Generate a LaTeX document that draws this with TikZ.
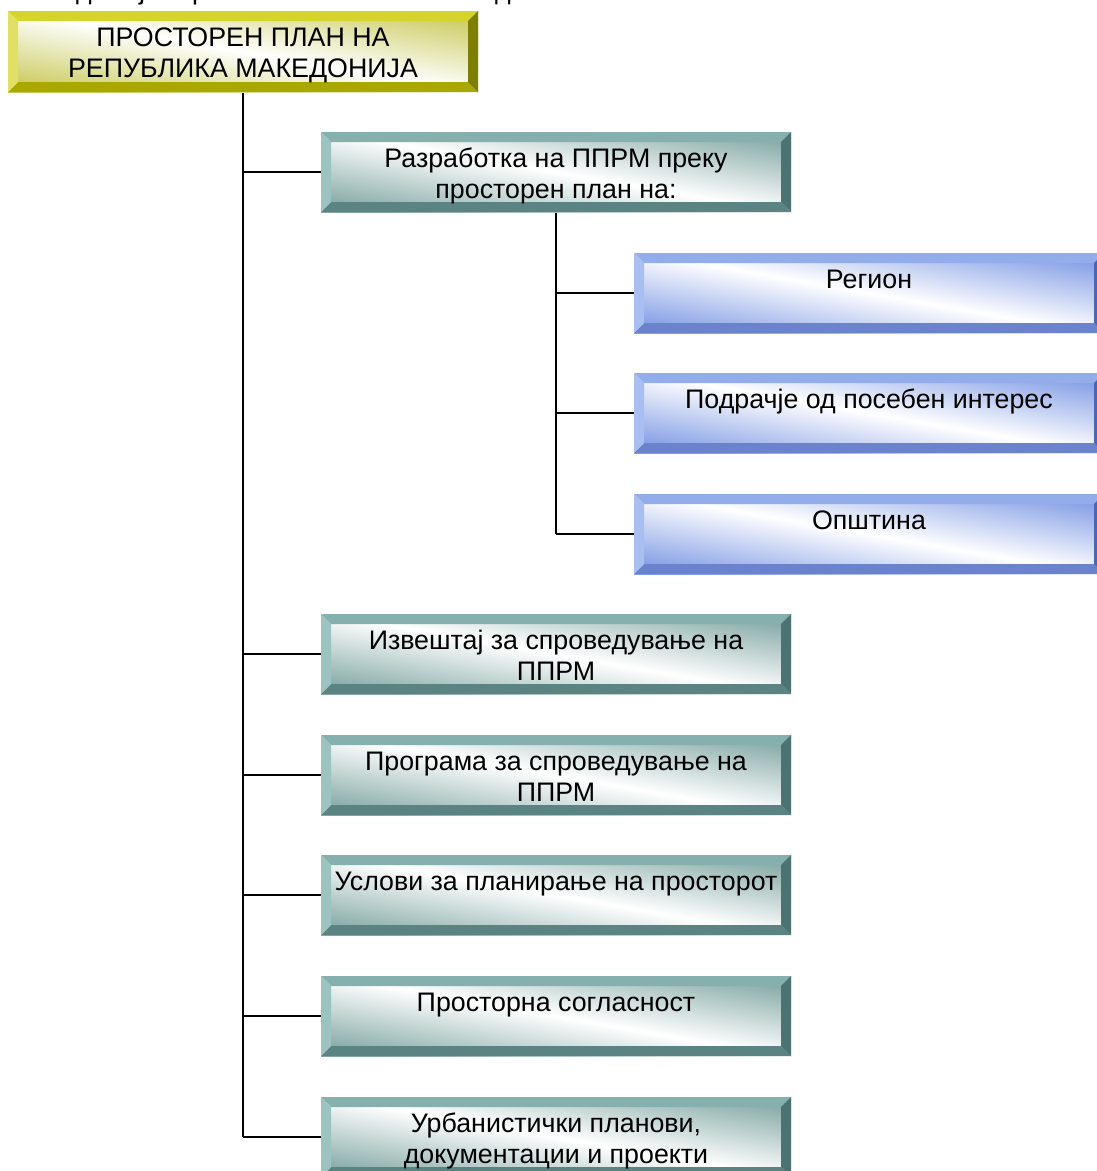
\documentclass[tikz,border=0pt]{standalone}
\usepackage{fontspec}
\setmainfont{Liberation Sans}
\definecolor{yTop}{HTML}{D4D42C}
\definecolor{yLeft}{HTML}{E0E066}
\definecolor{yRight}{HTML}{7E7E00}
\definecolor{yBot}{HTML}{A8A800}
\definecolor{yFace}{HTML}{CDCD66}
\definecolor{tTop}{HTML}{86B0AD}
\definecolor{tLeft}{HTML}{9DC3C0}
\definecolor{tRight}{HTML}{4C7371}
\definecolor{tBot}{HTML}{5A8381}
\definecolor{tFace}{HTML}{88ACA9}
\definecolor{bTop}{HTML}{93ACEA}
\definecolor{bLeft}{HTML}{A9BEF1}
\definecolor{bRight}{HTML}{4D66B4}
\definecolor{bBot}{HTML}{6A83CC}
\definecolor{bFace}{HTML}{86A0E6}
\tikzset{
  boxbase/.style={rectangle, anchor=north west, minimum width=470pt, minimum height=80pt, inner sep=0pt, outer sep=0pt},
  boxtext/.style={anchor=north, inner sep=0pt, align=center, font=\fontsize{26.8}{31}\selectfont},
  conn/.style={line width=1.6pt, black},
  frag/.style={anchor=base west, inner sep=0pt, font=\fontsize{26.8}{31}\selectfont}
}
\newcommand\bevbox[6]{%
  \node[boxbase, minimum height=#6, top color=#4Face, bottom color=#4Face, middle color=white, shading angle=-10] (#1) at (#2,#3) {};
  \fill[#4Top] (#1.north west) -- (#1.north east) -- ([shift={(-10,10)}]#1.north east) -- ([shift={(10,10)}]#1.north west) -- cycle;
  \fill[#4Bot] (#1.south west) -- (#1.south east) -- ([shift={(-10,-10)}]#1.south east) -- ([shift={(10,-10)}]#1.south west) -- cycle;
  \fill[#4Left] (#1.north west) -- ([shift={(10,10)}]#1.north west) -- ([shift={(10,-10)}]#1.south west) -- (#1.south west) -- cycle;
  \fill[#4Right] (#1.north east) -- ([shift={(-10,10)}]#1.north east) -- ([shift={(-10,-10)}]#1.south east) -- (#1.south east) -- cycle;
  \node[boxtext] (#1-t) at ([yshift=-13.3pt]#1.north) {\strut #5};
}
\begin{document}
\begin{tikzpicture}[x=1pt, y=-1pt]
\useasboundingbox[fill=white] (0,0) rectangle (1096,1171);
% fragments of a text line above the picture (only descenders visible)
\node[frag] (f1) at (76,-0.5) {д};
\node[frag] (f2) at (139,-0.5) {ј};
\node[frag] (f3) at (192,-0.5) {р};
\node[frag] (f4) at (495,-0.5) {д};
% trunks
\draw[conn] (243,92) coordinate (topfoot) -- (243,1137) coordinate (trunkend);
\draw[conn] (556,212) coordinate (r1foot) -- (556,534) coordinate (subend);
% boxes
\bevbox{top}{8}{11}{y}{ПРОСТОРЕН ПЛАН НА\\РЕПУБЛИКА МАКЕДОНИЈА}{81pt}
\bevbox{r1}{321}{132}{t}{Разработка на ППРМ преку\\просторен план на:}{80pt}
\bevbox{b1}{634}{253}{b}{Регион}{80pt}
\bevbox{b2}{634}{373}{b}{Подрачје од посебен интерес}{80pt}
\bevbox{b3}{634}{494}{b}{Општина}{80pt}
\bevbox{r2}{321}{614}{t}{Извештај за спроведување на\\ППРМ}{80pt}
\bevbox{r3}{321}{735}{t}{Програма за спроведување на\\ППРМ}{80pt}
\bevbox{r4}{321}{855}{t}{Услови за планирање на просторот}{80pt}
\bevbox{r5}{321}{976}{t}{Просторна согласност}{80pt}
\bevbox{r6}{321}{1097}{t}{Урбанистички планови,\\документации и проекти}{80pt}
% branches
\foreach \n in {r1,r2,r3,r4,r5,r6}{
  \draw[conn] (top.south |- \n.west) -- (\n.west);
}
\foreach \n in {b1,b2,b3}{
  \draw[conn] (r1.south |- \n.west) -- (\n.west);
}
\end{tikzpicture}
\end{document}
